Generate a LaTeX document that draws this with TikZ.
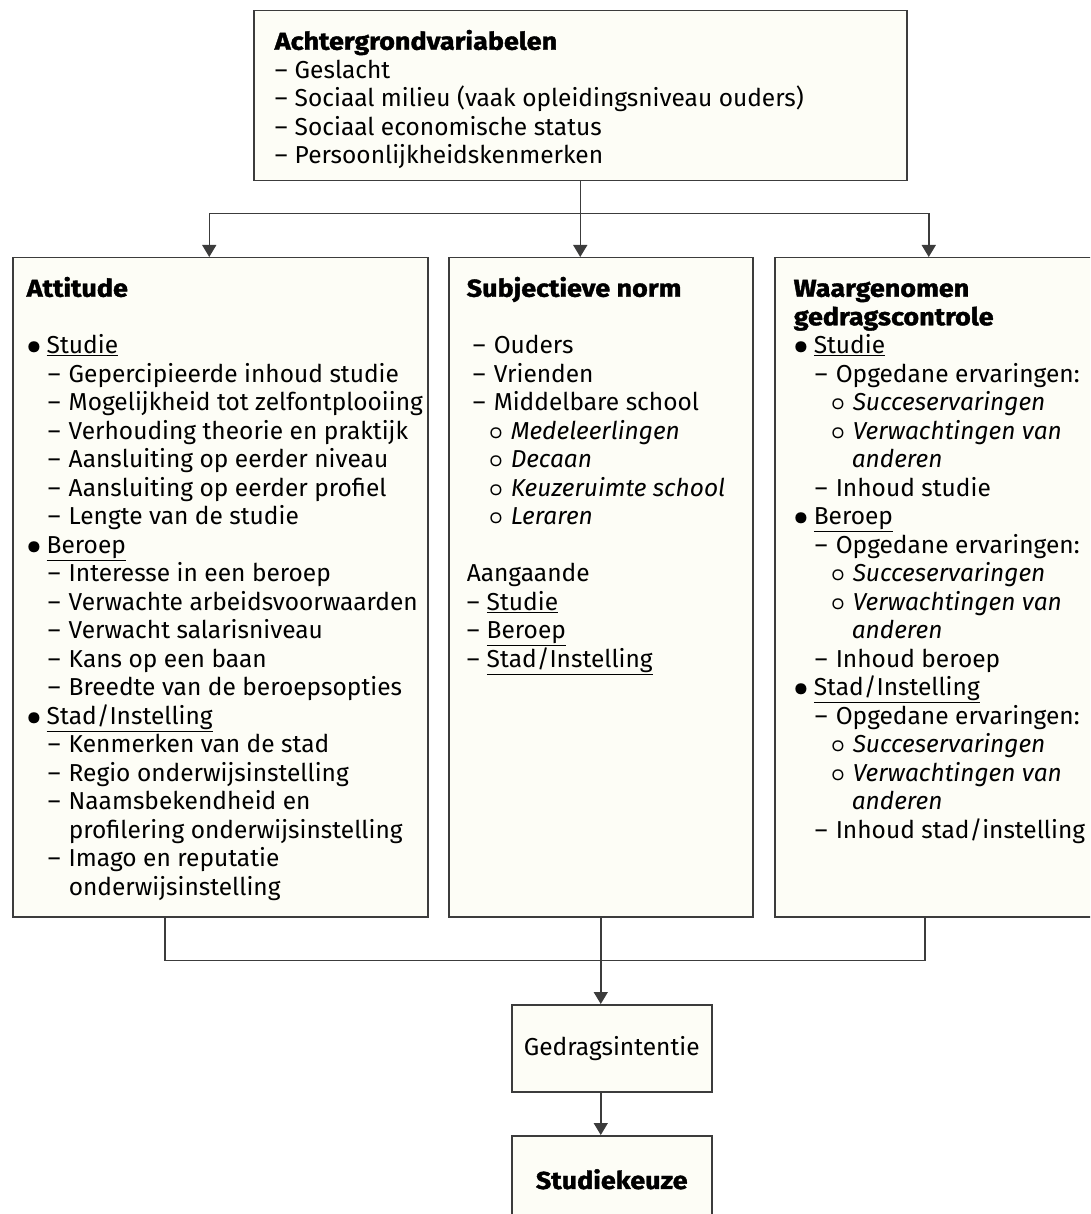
\documentclass[tikz,border=0pt]{standalone}
\usepackage{fontspec}
\setmainfont{Fira Sans}[BoldFeatures={FakeBold=1.5,FakeStretch=1.1}]
\usetikzlibrary{arrows.meta,positioning}
\definecolor{paper}{HTML}{FDFDF6}
\definecolor{rim}{HTML}{3C3C3C}
\setlength{\parskip}{0pt}
\newcommand{\diafont}{\fontsize{24.5pt}{28.5pt}\selectfont}
\newcommand{\first}{\rule{0pt}{39pt}}
\newcommand{\entry}[4]{\mbox{\hspace*{#1pt}\makebox[#2pt][l]{#3}#4}\par}
\newcommand{\ring}{{\boldmath$\circ$}}
\newcommand{\blob}{{\boldmath$\bullet$}}
\newcommand{\sbul}[1]{\entry{0}{20}{\blob}{\underline{#1}}}
\newcommand{\sdash}[1]{\entry{21}{21}{\textendash}{#1}}
\newcommand{\scirc}[1]{\entry{37}{22}{\ring}{\textit{#1}}}
\newcommand{\scont}[2]{\entry{#1}{0}{}{#2}}
\tikzstyle{box} = [rectangle, draw=rim, line width=1.5pt, fill=paper, inner ysep=0pt, anchor=north west, font=\diafont]
\tikzstyle{endbox} = [box, minimum width=200pt, minimum height=87pt, inner sep=0pt]
\tikzstyle{wire} = [draw=rim, line width=1.5pt]
\tikzstyle{arr} = [wire, -{Triangle[width=14pt,length=12pt]}]

\begin{document}
\begin{tikzpicture}[x=1pt,y=-1pt]
	\useasboundingbox (0,0) rectangle (1090,1214);
	\clip (0,0) rectangle (1090,1214);

	\node[box, inner xsep=21pt, minimum width=653pt, minimum height=170pt] (top) at (253,10) {%
		\begin{minipage}[t][170pt][t]{611pt}
		\first\textbf{Achtergrondvariabelen}\par
		\entry{0}{20}{\textendash}{Geslacht}
		\entry{0}{20}{\textendash}{Sociaal milieu (vaak opleidingsniveau ouders)}
		\entry{0}{20}{\textendash}{Sociaal economische status}
		\entry{0}{20}{\textendash}{Persoonlijkheidskenmerken}
		\end{minipage}};

	\node[box, inner xsep=14pt, minimum width=415pt, minimum height=659pt] (att) at (12,257) {%
		\begin{minipage}[t][659pt][t]{387pt}
		\first\textbf{Attitude}\par
		\mbox{}\par
		\sbul{Studie}
		\sdash{Gepercipieerde inhoud studie}
		\sdash{Mogelijkheid tot zelfontplooiing}
		\sdash{Verhouding theorie en praktijk}
		\sdash{Aansluiting op eerder niveau}
		\sdash{Aansluiting op eerder profiel}
		\sdash{Lengte van de studie}
		\sbul{Beroep}
		\sdash{Interesse in een beroep}
		\sdash{Verwachte arbeidsvoorwaarden}
		\sdash{Verwacht salarisniveau}
		\sdash{Kans op een baan}
		\sdash{Breedte van de beroepsopties}
		\sbul{Stad/Instelling}
		\sdash{Kenmerken van de stad}
		\sdash{Regio onderwijsinstelling}
		\sdash{Naamsbekendheid en}
		\scont{42}{profilering onderwijsinstelling}
		\sdash{Imago en reputatie}
		\scont{42}{onderwijsinstelling}
		\end{minipage}};

	\node[box, inner xsep=18pt, minimum width=304pt, minimum height=659pt] (subj) at (448,257) {%
		\begin{minipage}[t][659pt][t]{268pt}
		\first\textbf{Subjectieve norm}\par
		\mbox{}\par
		\entry{6}{21}{\textendash}{Ouders}
		\entry{6}{21}{\textendash}{Vrienden}
		\entry{6}{21}{\textendash}{Middelbare school}
		\entry{22}{22}{\ring}{\textit{Medeleerlingen}}
		\entry{22}{22}{\ring}{\textit{Decaan}}
		\entry{22}{22}{\ring}{\textit{Keuzeruimte school}}
		\entry{22}{22}{\ring}{\textit{Leraren}}
		\mbox{}\par
		Aangaande\par
		\entry{0}{20}{\textendash}{\underline{Studie}}
		\entry{0}{20}{\textendash}{\underline{Beroep}}
		\entry{0}{20}{\textendash}{\underline{Stad/Instelling}}
		\end{minipage}};

	\node[box, inner xsep=19pt, minimum width=326pt, minimum height=659pt] (wgc) at (774,257) {%
		\begin{minipage}[t][659pt][t]{288pt}
		\first\textbf{Waargenomen}\par
		\textbf{gedragscontrole}\par
		\sbul{Studie}
		\sdash{Opgedane ervaringen:}
		\scirc{Succeservaringen}
		\scirc{Verwachtingen van}
		\scont{58}{\textit{anderen}}
		\sdash{Inhoud studie}
		\sbul{Beroep}
		\sdash{Opgedane ervaringen:}
		\scirc{Succeservaringen}
		\scirc{Verwachtingen van}
		\scont{58}{\textit{anderen}}
		\sdash{Inhoud beroep}
		\sbul{Stad/Instelling}
		\sdash{Opgedane ervaringen:}
		\scirc{Succeservaringen}
		\scirc{Verwachtingen van}
		\scont{58}{\textit{anderen}}
		\sdash{Inhoud stad/instelling}
		\end{minipage}};

	\node[endbox] (gedrag) at (511,1004) {Gedragsintentie};
	\node[endbox] (keuze) at (511,1135) {\textbf{Studiekeuze}};

	% van achtergrond naar de drie kolommen
	\draw[wire] (top.south) -- ++(0,32) coordinate (fork);
	\draw[arr] (fork) -| ([xshift=-11pt]att.north);
	\draw[arr] (fork) -- (fork |- subj.north);
	\draw[arr] (fork) -| ([xshift=-9pt]wgc.north);

	% samen naar intentie en keuze
	\draw[wire] ([xshift=-55.5pt]att.south) -- ++(0,43) -| ([xshift=-13pt]wgc.south);
	\draw[arr] (subj.south) -- (subj.south |- gedrag.north);
	\draw[arr] (subj.south |- gedrag.south) -- (subj.south |- keuze.north);
\end{tikzpicture}
\end{document}
